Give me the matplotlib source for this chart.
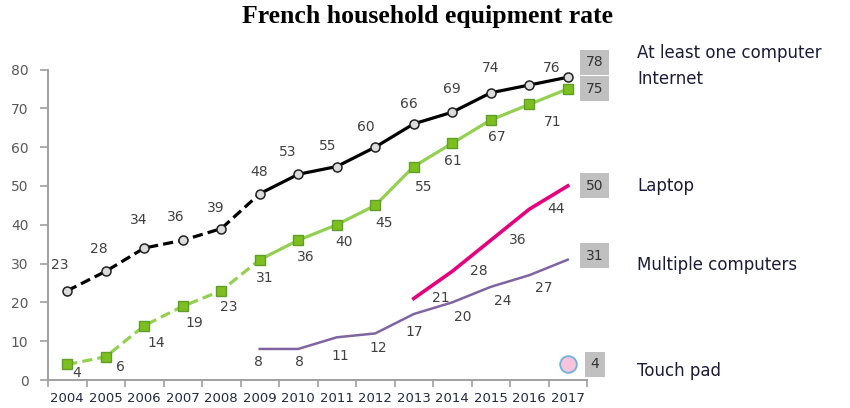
import matplotlib
matplotlib.use("Agg")
import matplotlib.pyplot as plt
from matplotlib.ticker import FixedLocator

years = list(range(2004, 2018))
computer = [23, 28, 34, 36, 39, 48, 53, 55, 60, 66, 69, 74, 76, 78]
internet = [4, 6, 14, 19, 23, 31, 36, 40, 45, 55, 61, 67, 71, 75]
laptop_years = [2013, 2014, 2015, 2016, 2017]
laptop = [21, 28, 36, 44, 50]
multi_years = list(range(2009, 2018))
multi = [8, 8, 11, 12, 17, 20, 24, 27, 31]
touch_years = [2017]
touch = [4]
series_names = ["At least one computer", "Internet", "Laptop",
                "Multiple computers", "Touch pad"]

# label offsets in pixels (dx, dy up)
off_computer = [(-8, 26), (-7, 22), (-6, 28), (-7, 23), (-6, 21), (-1, 22), (-11, 22),
                (-9, 21), (-9, 20), (-5, 20), (0, 23), (0, 25), (22, 17)]
off_internet = [(9, -9), (15, -10), (12, -17), (12, -17), (7, -16), (5, -18), (7, -17),
                (7, -17), (9, -18), (10, -20), (1, -18), (6, -17), (23, -18)]
off_multi = [(-1, -13), (1, -13), (4, -19), (3, -15), (0, -18), (10, -15), (12, -14), (14, -13)]

fig = plt.figure(figsize=(8.5, 4.08), dpi=100)
ax = fig.add_axes([48 / 850, 28 / 408, 539 / 850, 310.5 / 408])

def idx(y):
    return [v - 2004 for v in y]

x = idx(years)
lab_col = "#404040"
box_kw = dict(boxstyle="square,pad=0.4", fc="#c0c0c0", ec="none")

# at least one computer
ax.plot(x[:6], computer[:6], color="black", lw=2.3, dashes=(3.2, 1.6))
ax.plot(x[5:], computer[5:], color="black", lw=2.3)
ax.plot(x, computer, ls="none", marker="o", ms=6.5, mfc="#dcdcdc", mec="#222222", mew=1.1, zorder=4)

# internet
ax.plot(x[:6], internet[:6], color="#92d050", lw=2.3, dashes=(3.2, 1.6))
ax.plot(x[5:], internet[5:], color="#92d050", lw=2.3)
ax.plot(x, internet, ls="none", marker="s", ms=6.5, mfc="#7dbf1e", mec="#5f9e2a", mew=1.0, zorder=4)

# laptop
ax.plot(idx(laptop_years), laptop, color="#e5007d", lw=2.6)

# multiple computers
ax.plot(idx(multi_years), multi, color="#8064a2", lw=1.8)

# touch pad
ax.plot(idx(touch_years), touch, ls="none", marker="o", ms=12, mfc="#f7c4dc", mec="#6fb3d9", mew=1.3,
        clip_on=False, zorder=5)

for xi, v, o in zip(x[:-1], computer[:-1], off_computer):
    ax.annotate(str(v), (xi, v), xytext=o, textcoords="offset pixels", ha="center", va="center",
                fontsize=10, color=lab_col)
for xi, v, o in zip(x[:-1], internet[:-1], off_internet):
    ax.annotate(str(v), (xi, v), xytext=o, textcoords="offset pixels", ha="center", va="center",
                fontsize=10, color=lab_col)
for xi, v in zip(idx(laptop_years)[:-1], laptop[:-1]):
    ax.annotate(str(v), (xi, v), xytext=(27, 0), textcoords="offset pixels", ha="center", va="center",
                fontsize=10, color=lab_col)
for xi, v, o in zip(idx(multi_years)[:-1], multi[:-1], off_multi):
    ax.annotate(str(v), (xi, v), xytext=o, textcoords="offset pixels", ha="center", va="center",
                fontsize=10, color=lab_col)

# end value boxes
ends = [(x[-1], computer[-1], 15), (x[-1], internet[-1], 0), (idx(laptop_years)[-1], laptop[-1], 0),
        (idx(multi_years)[-1], multi[-1], 4), (idx(touch_years)[-1], touch[-1], 0)]
for xi, v, dy in ends:
    ax.annotate(str(v), (xi, v), xytext=(27, dy), textcoords="offset pixels", ha="center", va="center",
                fontsize=10, color="#333333", bbox=box_kw, annotation_clip=False)

# series names on the right
name_y = [53, 79, 186, 265, 371]
for name, py in zip(series_names, name_y):
    fig.text(637 / 850, 1 - py / 408, name, ha="left", va="center", fontsize=12,
             family="DejaVu Sans", color="#1c1c3a")

ax.set_xlim(-0.5, 13.5)
ax.set_ylim(0, 80)
ax.set_yticks(range(0, 81, 10))
ax.set_xticks(x)
ax.set_xticklabels([str(y) for y in years], fontsize=9.5, color="#1f2a44")
ax.xaxis.set_minor_locator(FixedLocator([i + 0.5 for i in range(-1, 14)]))
ax.tick_params(axis="x", which="major", length=0, pad=8.5)
ax.tick_params(axis="x", which="minor", length=5, color="#a0a0a0", width=1.2)
ax.tick_params(axis="y", length=6, color="#a0a0a0", width=1.2, pad=8, labelsize=10, labelcolor="#595959")
for s in ["top", "right"]:
    ax.spines[s].set_visible(False)
for s in ["left", "bottom"]:
    ax.spines[s].set_color("#a0a0a0")
    ax.spines[s].set_linewidth(1.4)

fig.text(427 / 850, 1 - 23 / 408, "French household equipment rate", ha="center", va="baseline",
         family="Liberation Serif", fontweight="bold", fontsize=18.5)

fig.savefig("out.png", dpi=100)
